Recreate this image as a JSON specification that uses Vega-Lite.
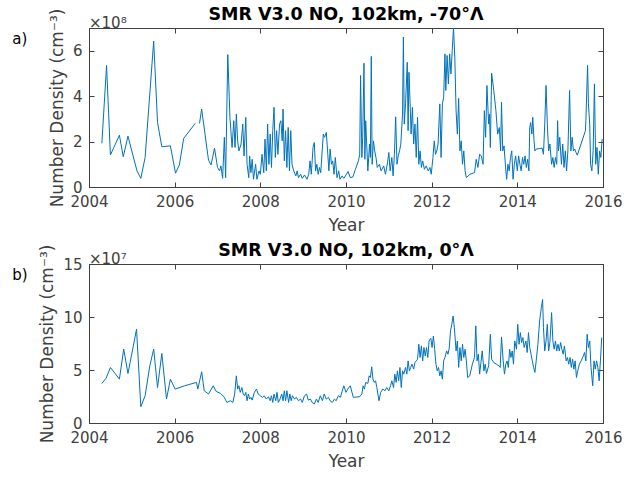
{
  "$schema": "https://vega.github.io/schema/vega-lite/v6.json",
  "autosize": {"type": "pad"},
  "padding": {"left": 11, "top": 5, "right": 5, "bottom": 5},
  "config": {
    "font": "DejaVu Sans",
    "view": {"stroke": "#404040", "strokeWidth": 1},
    "axis": {
      "grid": false, "labelFlush": false, "labelOverlap": false,
      "labelFont": "DejaVu Sans", "labelFontSize": 15, "labelColor": "#404040",
      "titleFont": "DejaVu Sans", "titleFontSize": 17, "titleFontWeight": "normal", "titleColor": "#404040",
      "domainColor": "#404040", "tickColor": "#404040", "tickSize": -5, "labelPadding": 12
    },
    "title": {"font": "DejaVu Sans", "fontSize": 17.5, "fontWeight": "bold", "color": "#000000", "baseline": "alphabetic", "offset": -15}
  },
  "datasets": {
    "top": [
      {"year":2004.30,"density":1.92e8,"segment":1},{"year":2004.41,"density":5.35e8,"segment":1},{"year":2004.50,"density":1.41e8,"segment":1},{"year":2004.71,"density":2.28e8,"segment":1},{"year":2004.80,"density":1.33e8,"segment":1},{"year":2004.91,"density":2.24e8,"segment":1},{"year":2005.12,"density":0.71e8,"segment":1},{"year":2005.21,"density":0.38e8,"segment":1},{"year":2005.31,"density":1.30e8,"segment":1},{"year":2005.51,"density":6.42e8,"segment":1},{"year":2005.60,"density":2.84e8,"segment":1},{"year":2005.70,"density":1.77e8,"segment":1},{"year":2005.90,"density":1.81e8,"segment":1},{"year":2006.02,"density":0.61e8,"segment":1},{"year":2006.11,"density":0.97e8,"segment":1},{"year":2006.21,"density":2.14e8,"segment":1},{"year":2006.48,"density":2.80e8,"segment":1},
      {"year":2006.58,"density":2.80e8,"segment":2},{"year":2006.63,"density":3.43e8,"segment":2},{"year":2006.79,"density":1.18e8,"segment":2},{"year":2006.85,"density":0.97e8,"segment":2},{"year":2006.93,"density":1.71e8,"segment":2},{"year":2007.00,"density":0.86e8,"segment":2},{"year":2007.05,"density":0.71e8,"segment":2},{"year":2007.08,"density":0.93e8,"segment":2},{"year":2007.12,"density":0.38e8,"segment":2},{"year":2007.16,"density":2.19e8,"segment":2},{"year":2007.19,"density":0.41e8,"segment":2},{"year":2007.24,"density":5.83e8,"segment":2},{"year":2007.29,"density":3.07e8,"segment":2},{"year":2007.34,"density":1.74e8,"segment":2},{"year":2007.38,"density":2.92e8,"segment":2},{"year":2007.41,"density":1.74e8,"segment":2},{"year":2007.44,"density":3.21e8,"segment":2},{"year":2007.47,"density":2.03e8,"segment":2},{"year":2007.50,"density":1.59e8,"segment":2},{"year":2007.55,"density":1.89e8,"segment":2},{"year":2007.59,"density":2.77e8,"segment":2},{"year":2007.62,"density":1.37e8,"segment":2},{"year":2007.66,"density":3.07e8,"segment":2},{"year":2007.69,"density":1.00e8,"segment":2},{"year":2007.73,"density":0.41e8,"segment":2},{"year":2007.75,"density":1.37e8,"segment":2},{"year":2007.78,"density":0.63e8,"segment":2},{"year":2007.81,"density":1.22e8,"segment":2},{"year":2007.84,"density":0.34e8,"segment":2},{"year":2007.89,"density":1.00e8,"segment":2},{"year":2007.92,"density":0.34e8,"segment":2},{"year":2007.97,"density":0.71e8,"segment":2},{"year":2008.00,"density":0.56e8,"segment":2},{"year":2008.04,"density":1.44e8,"segment":2},{"year":2008.08,"density":0.63e8,"segment":2},{"year":2008.11,"density":2.11e8,"segment":2},{"year":2008.14,"density":0.71e8,"segment":2},{"year":2008.17,"density":2.77e8,"segment":2},{"year":2008.20,"density":1.00e8,"segment":2},{"year":2008.23,"density":2.33e8,"segment":2},{"year":2008.26,"density":0.86e8,"segment":2},{"year":2008.29,"density":2.48e8,"segment":2},{"year":2008.32,"density":3.51e8,"segment":2},{"year":2008.35,"density":1.30e8,"segment":2},{"year":2008.38,"density":2.48e8,"segment":2},{"year":2008.41,"density":1.44e8,"segment":2},{"year":2008.45,"density":2.77e8,"segment":2},{"year":2008.48,"density":2.92e8,"segment":2},{"year":2008.51,"density":2.03e8,"segment":2},{"year":2008.53,"density":3.43e8,"segment":2},{"year":2008.56,"density":1.15e8,"segment":2},{"year":2008.59,"density":2.48e8,"segment":2},{"year":2008.62,"density":0.86e8,"segment":2},{"year":2008.65,"density":2.62e8,"segment":2},{"year":2008.68,"density":0.71e8,"segment":2},{"year":2008.71,"density":2.48e8,"segment":2},{"year":2008.74,"density":1.00e8,"segment":2},{"year":2008.78,"density":0.71e8,"segment":2},{"year":2008.83,"density":0.49e8,"segment":2},{"year":2008.86,"density":0.71e8,"segment":2},{"year":2008.89,"density":0.41e8,"segment":2},{"year":2008.94,"density":0.56e8,"segment":2},{"year":2008.98,"density":0.38e8,"segment":2},{"year":2009.03,"density":0.53e8,"segment":2},{"year":2009.09,"density":0.34e8,"segment":2},{"year":2009.13,"density":0.56e8,"segment":2},{"year":2009.16,"density":1.15e8,"segment":2},{"year":2009.19,"density":0.56e8,"segment":2},{"year":2009.23,"density":1.74e8,"segment":2},{"year":2009.26,"density":1.96e8,"segment":2},{"year":2009.29,"density":0.71e8,"segment":2},{"year":2009.32,"density":1.00e8,"segment":2},{"year":2009.35,"density":0.56e8,"segment":2},{"year":2009.38,"density":0.86e8,"segment":2},{"year":2009.41,"density":0.63e8,"segment":2},{"year":2009.47,"density":2.33e8,"segment":2},{"year":2009.50,"density":2.19e8,"segment":2},{"year":2009.54,"density":2.40e8,"segment":2},{"year":2009.57,"density":1.59e8,"segment":2},{"year":2009.60,"density":0.71e8,"segment":2},{"year":2009.63,"density":1.67e8,"segment":2},{"year":2009.66,"density":1.00e8,"segment":2},{"year":2009.69,"density":1.15e8,"segment":2},{"year":2009.72,"density":0.56e8,"segment":2},{"year":2009.75,"density":1.30e8,"segment":2},{"year":2009.79,"density":0.41e8,"segment":2},{"year":2009.83,"density":0.71e8,"segment":2},{"year":2009.86,"density":0.34e8,"segment":2},{"year":2009.91,"density":0.49e8,"segment":2},{"year":2009.95,"density":0.38e8,"segment":2},{"year":2010.01,"density":0.56e8,"segment":2},{"year":2010.05,"density":0.68e8,"segment":2},{"year":2010.10,"density":0.41e8,"segment":2},{"year":2010.16,"density":0.44e8,"segment":2},{"year":2010.22,"density":0.78e8,"segment":2},{"year":2010.29,"density":1.15e8,"segment":2},{"year":2010.32,"density":1.44e8,"segment":2},{"year":2010.34,"density":4.91e8,"segment":2},{"year":2010.37,"density":1.30e8,"segment":2},{"year":2010.39,"density":2.19e8,"segment":2},{"year":2010.42,"density":5.45e8,"segment":2},{"year":2010.44,"density":1.22e8,"segment":2},{"year":2010.46,"density":2.92e8,"segment":2},{"year":2010.49,"density":1.59e8,"segment":2},{"year":2010.51,"density":0.71e8,"segment":2},{"year":2010.55,"density":1.89e8,"segment":2},{"year":2010.57,"density":1.30e8,"segment":2},{"year":2010.59,"density":5.75e8,"segment":2},{"year":2010.61,"density":1.00e8,"segment":2},{"year":2010.64,"density":2.03e8,"segment":2},{"year":2010.67,"density":1.59e8,"segment":2},{"year":2010.70,"density":1.30e8,"segment":2},{"year":2010.73,"density":0.86e8,"segment":2},{"year":2010.78,"density":1.00e8,"segment":2},{"year":2010.82,"density":0.71e8,"segment":2},{"year":2010.88,"density":0.93e8,"segment":2},{"year":2010.92,"density":0.56e8,"segment":2},{"year":2010.97,"density":1.07e8,"segment":2},{"year":2011.00,"density":1.52e8,"segment":2},{"year":2011.03,"density":0.71e8,"segment":2},{"year":2011.07,"density":1.30e8,"segment":2},{"year":2011.10,"density":0.49e8,"segment":2},{"year":2011.13,"density":1.44e8,"segment":2},{"year":2011.16,"density":3.09e8,"segment":2},{"year":2011.19,"density":1.00e8,"segment":2},{"year":2011.22,"density":1.37e8,"segment":2},{"year":2011.25,"density":1.59e8,"segment":2},{"year":2011.28,"density":1.89e8,"segment":2},{"year":2011.32,"density":3.21e8,"segment":2},{"year":2011.34,"density":6.60e8,"segment":2},{"year":2011.36,"density":2.77e8,"segment":2},{"year":2011.39,"density":3.66e8,"segment":2},{"year":2011.43,"density":5.49e8,"segment":2},{"year":2011.45,"density":2.48e8,"segment":2},{"year":2011.47,"density":5.05e8,"segment":2},{"year":2011.50,"density":3.51e8,"segment":2},{"year":2011.52,"density":2.33e8,"segment":2},{"year":2011.55,"density":3.51e8,"segment":2},{"year":2011.58,"density":1.89e8,"segment":2},{"year":2011.61,"density":2.77e8,"segment":2},{"year":2011.64,"density":1.30e8,"segment":2},{"year":2011.67,"density":3.07e8,"segment":2},{"year":2011.70,"density":1.00e8,"segment":2},{"year":2011.73,"density":1.59e8,"segment":2},{"year":2011.76,"density":0.86e8,"segment":2},{"year":2011.79,"density":1.15e8,"segment":2},{"year":2011.83,"density":0.78e8,"segment":2},{"year":2011.87,"density":0.93e8,"segment":2},{"year":2011.92,"density":0.71e8,"segment":2},{"year":2011.96,"density":0.86e8,"segment":2},{"year":2011.99,"density":0.56e8,"segment":2},{"year":2012.03,"density":1.30e8,"segment":2},{"year":2012.06,"density":2.03e8,"segment":2},{"year":2012.09,"density":1.44e8,"segment":2},{"year":2012.12,"density":1.59e8,"segment":2},{"year":2012.15,"density":1.89e8,"segment":2},{"year":2012.19,"density":3.66e8,"segment":2},{"year":2012.22,"density":1.30e8,"segment":2},{"year":2012.25,"density":3.66e8,"segment":2},{"year":2012.28,"density":3.95e8,"segment":2},{"year":2012.31,"density":5.86e8,"segment":2},{"year":2012.33,"density":4.25e8,"segment":2},{"year":2012.36,"density":5.79e8,"segment":2},{"year":2012.39,"density":4.54e8,"segment":2},{"year":2012.42,"density":5.86e8,"segment":2},{"year":2012.45,"density":4.98e8,"segment":2},{"year":2012.48,"density":6.01e8,"segment":2},{"year":2012.51,"density":7.00e8,"segment":2},{"year":2012.54,"density":5.72e8,"segment":2},{"year":2012.57,"density":3.36e8,"segment":2},{"year":2012.60,"density":2.33e8,"segment":2},{"year":2012.63,"density":3.90e8,"segment":2},{"year":2012.66,"density":1.59e8,"segment":2},{"year":2012.69,"density":2.03e8,"segment":2},{"year":2012.72,"density":1.00e8,"segment":2},{"year":2012.75,"density":1.59e8,"segment":2},{"year":2012.78,"density":0.71e8,"segment":2},{"year":2012.81,"density":0.41e8,"segment":2},{"year":2012.89,"density":0.56e8,"segment":2},{"year":2013.00,"density":0.63e8,"segment":2},{"year":2013.04,"density":1.22e8,"segment":2},{"year":2013.08,"density":0.86e8,"segment":2},{"year":2013.12,"density":1.44e8,"segment":2},{"year":2013.16,"density":1.37e8,"segment":2},{"year":2013.20,"density":1.00e8,"segment":2},{"year":2013.23,"density":3.36e8,"segment":2},{"year":2013.26,"density":2.19e8,"segment":2},{"year":2013.29,"density":4.47e8,"segment":2},{"year":2013.33,"density":2.77e8,"segment":2},{"year":2013.35,"density":3.21e8,"segment":2},{"year":2013.37,"density":1.74e8,"segment":2},{"year":2013.40,"density":5.01e8,"segment":2},{"year":2013.45,"density":4.25e8,"segment":2},{"year":2013.50,"density":3.36e8,"segment":2},{"year":2013.54,"density":2.33e8,"segment":2},{"year":2013.58,"density":2.62e8,"segment":2},{"year":2013.61,"density":1.59e8,"segment":2},{"year":2013.63,"density":3.73e8,"segment":2},{"year":2013.66,"density":1.59e8,"segment":2},{"year":2013.69,"density":1.81e8,"segment":2},{"year":2013.72,"density":1.00e8,"segment":2},{"year":2013.75,"density":0.34e8,"segment":2},{"year":2013.78,"density":1.00e8,"segment":2},{"year":2013.81,"density":0.71e8,"segment":2},{"year":2013.84,"density":1.30e8,"segment":2},{"year":2013.87,"density":1.59e8,"segment":2},{"year":2013.90,"density":0.34e8,"segment":2},{"year":2013.93,"density":1.00e8,"segment":2},{"year":2013.96,"density":1.37e8,"segment":2},{"year":2014.00,"density":0.71e8,"segment":2},{"year":2014.03,"density":1.37e8,"segment":2},{"year":2014.06,"density":1.00e8,"segment":2},{"year":2014.09,"density":0.71e8,"segment":2},{"year":2014.12,"density":1.30e8,"segment":2},{"year":2014.15,"density":1.00e8,"segment":2},{"year":2014.18,"density":1.37e8,"segment":2},{"year":2014.21,"density":0.86e8,"segment":2},{"year":2014.24,"density":1.22e8,"segment":2},{"year":2014.27,"density":0.71e8,"segment":2},{"year":2014.29,"density":2.62e8,"segment":2},{"year":2014.31,"density":2.84e8,"segment":2},{"year":2014.34,"density":2.33e8,"segment":2},{"year":2014.36,"density":3.07e8,"segment":2},{"year":2014.39,"density":2.03e8,"segment":2},{"year":2014.41,"density":1.59e8,"segment":2},{"year":2014.44,"density":1.67e8,"segment":2},{"year":2014.58,"density":1.71e8,"segment":2},{"year":2014.61,"density":1.44e8,"segment":2},{"year":2014.64,"density":2.77e8,"segment":2},{"year":2014.67,"density":4.47e8,"segment":2},{"year":2014.70,"density":2.77e8,"segment":2},{"year":2014.73,"density":1.59e8,"segment":2},{"year":2014.76,"density":1.89e8,"segment":2},{"year":2014.80,"density":1.00e8,"segment":2},{"year":2014.83,"density":1.30e8,"segment":2},{"year":2014.86,"density":0.86e8,"segment":2},{"year":2014.89,"density":1.30e8,"segment":2},{"year":2014.92,"density":1.00e8,"segment":2},{"year":2014.94,"density":2.92e8,"segment":2},{"year":2014.96,"density":1.59e8,"segment":2},{"year":2014.99,"density":2.19e8,"segment":2},{"year":2015.03,"density":1.00e8,"segment":2},{"year":2015.06,"density":1.89e8,"segment":2},{"year":2015.09,"density":0.86e8,"segment":2},{"year":2015.12,"density":1.59e8,"segment":2},{"year":2015.15,"density":0.71e8,"segment":2},{"year":2015.18,"density":1.59e8,"segment":2},{"year":2015.22,"density":4.25e8,"segment":2},{"year":2015.25,"density":1.59e8,"segment":2},{"year":2015.28,"density":2.19e8,"segment":2},{"year":2015.31,"density":1.59e8,"segment":2},{"year":2015.34,"density":1.67e8,"segment":2},{"year":2015.37,"density":1.52e8,"segment":2},{"year":2015.40,"density":1.40e8,"segment":2},{"year":2015.59,"density":2.48e8,"segment":2},{"year":2015.60,"density":2.92e8,"segment":2},{"year":2015.64,"density":5.35e8,"segment":2},{"year":2015.66,"density":3.66e8,"segment":2},{"year":2015.69,"density":2.77e8,"segment":2},{"year":2015.71,"density":1.00e8,"segment":2},{"year":2015.74,"density":0.71e8,"segment":2},{"year":2015.77,"density":1.59e8,"segment":2},{"year":2015.80,"density":4.54e8,"segment":2},{"year":2015.83,"density":1.00e8,"segment":2},{"year":2015.86,"density":1.74e8,"segment":2},{"year":2015.89,"density":0.56e8,"segment":2},{"year":2015.92,"density":1.59e8,"segment":2},{"year":2015.95,"density":1.30e8,"segment":2},{"year":2015.98,"density":2.11e8,"segment":2}
    ],
    "bottom": [
      {"year":2004.30,"density":3.73e7},{"year":2004.40,"density":4.23e7},{"year":2004.50,"density":5.24e7},{"year":2004.71,"density":4.14e7},{"year":2004.81,"density":6.97e7},{"year":2004.91,"density":4.67e7},{"year":2005.11,"density":8.85e7},{"year":2005.21,"density":1.53e7},{"year":2005.31,"density":2.57e7},{"year":2005.42,"density":5.40e7},{"year":2005.51,"density":6.97e7},{"year":2005.60,"density":3.35e7},{"year":2005.70,"density":6.56e7},{"year":2005.81,"density":2.26e7},{"year":2005.90,"density":4.14e7},{"year":2006.01,"density":3.20e7},{"year":2006.23,"density":3.51e7},{"year":2006.51,"density":3.83e7},{"year":2006.54,"density":3.20e7},{"year":2006.63,"density":4.83e7},{"year":2006.69,"density":3.04e7},{"year":2006.79,"density":2.73e7},{"year":2006.90,"density":3.51e7},{"year":2006.97,"density":2.98e7},
      {"year":2007.07,"density":2.79e7},{"year":2007.15,"density":2.48e7},{"year":2007.22,"density":1.94e7},{"year":2007.30,"density":2.10e7},{"year":2007.36,"density":1.94e7},{"year":2007.40,"density":2.73e7},{"year":2007.44,"density":4.45e7},{"year":2007.47,"density":3.20e7},{"year":2007.50,"density":3.51e7},{"year":2007.53,"density":2.89e7},{"year":2007.57,"density":3.35e7},{"year":2007.60,"density":2.73e7},{"year":2007.63,"density":2.57e7},{"year":2007.66,"density":2.89e7},{"year":2007.69,"density":2.10e7},{"year":2007.72,"density":2.73e7},{"year":2007.75,"density":2.26e7},{"year":2007.78,"density":2.42e7},{"year":2007.81,"density":2.16e7},{"year":2007.86,"density":2.89e7},{"year":2007.91,"density":3.20e7},{"year":2007.95,"density":2.73e7},{"year":2008.00,"density":2.57e7},{"year":2008.05,"density":2.42e7},{"year":2008.09,"density":2.57e7},{"year":2008.14,"density":2.26e7},{"year":2008.19,"density":2.48e7},{"year":2008.23,"density":2.10e7},{"year":2008.26,"density":2.57e7},{"year":2008.29,"density":1.94e7},{"year":2008.32,"density":2.73e7},{"year":2008.36,"density":2.10e7},{"year":2008.39,"density":2.89e7},{"year":2008.42,"density":1.94e7},{"year":2008.45,"density":2.16e7},{"year":2008.50,"density":2.73e7},{"year":2008.53,"density":2.10e7},{"year":2008.56,"density":3.04e7},{"year":2008.59,"density":2.10e7},{"year":2008.62,"density":3.04e7},{"year":2008.66,"density":1.94e7},{"year":2008.69,"density":2.73e7},{"year":2008.72,"density":2.10e7},{"year":2008.75,"density":2.57e7},{"year":2008.80,"density":2.26e7},{"year":2008.84,"density":2.42e7},{"year":2008.89,"density":2.10e7},{"year":2008.94,"density":2.26e7},{"year":2008.98,"density":1.94e7},{"year":2009.03,"density":2.57e7},{"year":2009.08,"density":2.73e7},{"year":2009.12,"density":2.16e7},{"year":2009.17,"density":2.26e7},{"year":2009.21,"density":1.94e7},{"year":2009.26,"density":1.79e7},{"year":2009.31,"density":2.26e7},{"year":2009.35,"density":1.94e7},{"year":2009.40,"density":2.57e7},{"year":2009.45,"density":2.10e7},{"year":2009.49,"density":2.73e7},{"year":2009.54,"density":2.26e7},{"year":2009.59,"density":2.42e7},{"year":2009.63,"density":2.10e7},{"year":2009.68,"density":1.94e7},{"year":2009.73,"density":2.26e7},{"year":2009.77,"density":2.10e7},{"year":2009.82,"density":2.57e7},{"year":2009.87,"density":2.42e7},{"year":2009.91,"density":3.00e7},{"year":2009.95,"density":3.51e7},{"year":2010.00,"density":2.89e7},{"year":2010.04,"density":3.20e7},{"year":2010.10,"density":3.51e7},{"year":2010.17,"density":2.42e7},{"year":2010.32,"density":2.48e7},{"year":2010.37,"density":2.73e7},{"year":2010.40,"density":3.51e7},{"year":2010.43,"density":3.20e7},{"year":2010.46,"density":3.83e7},{"year":2010.51,"density":3.73e7},{"year":2010.54,"density":4.45e7},{"year":2010.57,"density":4.29e7},{"year":2010.60,"density":5.30e7},{"year":2010.63,"density":4.14e7},{"year":2010.66,"density":3.83e7},{"year":2010.69,"density":3.98e7},{"year":2010.72,"density":3.35e7},{"year":2010.77,"density":2.10e7},{"year":2010.81,"density":2.89e7},{"year":2010.86,"density":3.20e7},{"year":2010.91,"density":3.04e7},{"year":2010.95,"density":3.35e7},{"year":2011.00,"density":3.04e7},{"year":2011.04,"density":3.51e7},{"year":2011.07,"density":3.98e7},{"year":2011.11,"density":3.35e7},{"year":2011.14,"density":4.61e7},{"year":2011.17,"density":3.83e7},{"year":2011.20,"density":4.92e7},{"year":2011.23,"density":3.98e7},{"year":2011.26,"density":5.24e7},{"year":2011.29,"density":3.35e7},{"year":2011.32,"density":4.92e7},{"year":2011.35,"density":4.61e7},{"year":2011.39,"density":5.24e7},{"year":2011.42,"density":4.61e7},{"year":2011.45,"density":5.86e7},{"year":2011.48,"density":4.92e7},{"year":2011.51,"density":5.24e7},{"year":2011.54,"density":5.55e7},{"year":2011.58,"density":5.08e7},{"year":2011.61,"density":5.71e7},{"year":2011.64,"density":5.86e7},{"year":2011.67,"density":6.02e7},{"year":2011.70,"density":7.43e7},{"year":2011.73,"density":6.18e7},{"year":2011.76,"density":7.27e7},{"year":2011.79,"density":5.86e7},{"year":2011.82,"density":7.12e7},{"year":2011.85,"density":6.33e7},{"year":2011.88,"density":7.12e7},{"year":2011.91,"density":6.18e7},{"year":2011.94,"density":7.74e7},{"year":2011.98,"density":7.99e7},{"year":2012.01,"density":7.12e7},{"year":2012.04,"density":8.21e7},{"year":2012.07,"density":6.96e7},{"year":2012.10,"density":5.55e7},{"year":2012.13,"density":4.92e7},{"year":2012.16,"density":5.24e7},{"year":2012.19,"density":4.45e7},{"year":2012.22,"density":4.92e7},{"year":2012.25,"density":4.14e7},{"year":2012.28,"density":5.86e7},{"year":2012.31,"density":6.18e7},{"year":2012.35,"density":6.80e7},{"year":2012.38,"density":6.49e7},{"year":2012.41,"density":7.05e7},{"year":2012.44,"density":8.68e7},{"year":2012.47,"density":9.31e7},{"year":2012.50,"density":10.10e7},{"year":2012.53,"density":9.00e7},{"year":2012.57,"density":6.80e7},{"year":2012.60,"density":7.74e7},{"year":2012.63,"density":5.24e7},{"year":2012.66,"density":7.12e7},{"year":2012.69,"density":5.86e7},{"year":2012.72,"density":7.43e7},{"year":2012.75,"density":6.18e7},{"year":2012.78,"density":6.96e7},{"year":2012.81,"density":5.86e7},{"year":2012.84,"density":4.29e7},{"year":2012.89,"density":4.45e7},{"year":2012.95,"density":5.55e7},{"year":2013.00,"density":6.18e7},{"year":2013.03,"density":9.16e7},{"year":2013.06,"density":5.86e7},{"year":2013.09,"density":6.49e7},{"year":2013.12,"density":4.61e7},{"year":2013.15,"density":5.71e7},{"year":2013.18,"density":6.80e7},{"year":2013.22,"density":4.92e7},{"year":2013.25,"density":5.55e7},{"year":2013.28,"density":4.67e7},{"year":2013.33,"density":5.40e7},{"year":2013.37,"density":8.37e7},{"year":2013.40,"density":6.02e7},{"year":2013.45,"density":5.71e7},{"year":2013.51,"density":5.55e7},{"year":2013.57,"density":5.40e7},{"year":2013.60,"density":5.24e7},{"year":2013.63,"density":8.12e7},{"year":2013.67,"density":5.86e7},{"year":2013.70,"density":4.61e7},{"year":2013.73,"density":5.55e7},{"year":2013.76,"density":5.86e7},{"year":2013.79,"density":5.24e7},{"year":2013.82,"density":6.96e7},{"year":2013.85,"density":6.18e7},{"year":2013.88,"density":6.80e7},{"year":2013.91,"density":5.55e7},{"year":2013.94,"density":7.74e7},{"year":2013.98,"density":6.96e7},{"year":2014.01,"density":9.31e7},{"year":2014.04,"density":7.43e7},{"year":2014.07,"density":8.53e7},{"year":2014.10,"density":7.59e7},{"year":2014.13,"density":8.06e7},{"year":2014.16,"density":7.12e7},{"year":2014.20,"density":7.74e7},{"year":2014.23,"density":6.65e7},{"year":2014.26,"density":8.53e7},{"year":2014.29,"density":7.12e7},{"year":2014.32,"density":6.49e7},{"year":2014.35,"density":5.86e7},{"year":2014.38,"density":5.24e7},{"year":2014.41,"density":4.77e7},{"year":2014.44,"density":5.86e7},{"year":2014.48,"density":7.43e7},{"year":2014.52,"density":9.62e7},{"year":2014.56,"density":10.87e7},{"year":2014.59,"density":11.65e7},{"year":2014.61,"density":9.00e7},{"year":2014.64,"density":6.80e7},{"year":2014.67,"density":7.74e7},{"year":2014.70,"density":9.31e7},{"year":2014.73,"density":6.80e7},{"year":2014.76,"density":7.59e7},{"year":2014.80,"density":10.41e7},{"year":2014.83,"density":7.74e7},{"year":2014.86,"density":6.96e7},{"year":2014.89,"density":7.74e7},{"year":2014.92,"density":6.80e7},{"year":2014.95,"density":7.43e7},{"year":2014.98,"density":6.80e7},{"year":2015.01,"density":7.59e7},{"year":2015.04,"density":6.96e7},{"year":2015.07,"density":6.49e7},{"year":2015.10,"density":7.27e7},{"year":2015.14,"density":5.86e7},{"year":2015.17,"density":6.18e7},{"year":2015.20,"density":5.55e7},{"year":2015.23,"density":6.18e7},{"year":2015.26,"density":5.24e7},{"year":2015.29,"density":6.02e7},{"year":2015.32,"density":5.08e7},{"year":2015.35,"density":5.86e7},{"year":2015.38,"density":4.29e7},{"year":2015.41,"density":4.92e7},{"year":2015.45,"density":5.55e7},{"year":2015.49,"density":5.86e7},{"year":2015.54,"density":6.33e7},{"year":2015.57,"density":6.65e7},{"year":2015.60,"density":5.86e7},{"year":2015.63,"density":8.37e7},{"year":2015.66,"density":7.12e7},{"year":2015.69,"density":7.74e7},{"year":2015.72,"density":5.24e7},{"year":2015.76,"density":3.51e7},{"year":2015.79,"density":5.86e7},{"year":2015.82,"density":5.08e7},{"year":2015.85,"density":5.86e7},{"year":2015.88,"density":5.24e7},{"year":2015.91,"density":3.98e7},{"year":2015.94,"density":5.86e7},{"year":2015.97,"density":8.06e7}
    ]
  },
  "spacing": 77,
  "bounds": "flush",
  "vconcat": [
    {
      "width": 514, "height": 159,
      "title": {"text": "SMR V3.0 NO, 102km, -70°Λ"},
      "resolve": {"axis": {"x": "independent", "y": "independent"}},
      "layer": [
        {
          "data": {"name": "top"},
          "mark": {"type": "line", "color": "#0072BD", "strokeWidth": 1},
          "encoding": {
            "x": {"field": "year", "type": "quantitative", "scale": {"domain": [2004, 2016], "nice": false, "zero": false},
                  "axis": {"orient": "bottom", "values": [2004, 2006, 2008, 2010, 2012, 2014, 2016], "format": "d", "title": "Year", "titlePadding": 8}},
            "y": {"field": "density", "type": "quantitative", "scale": {"domain": [0, 700000000], "nice": false},
                  "axis": {"orient": "left", "values": [0, 200000000, 400000000, 600000000], "labelExpr": "format(datum.value/1e8, 'd')", "title": "Number Density (cm⁻³)", "titlePadding": 6}},
            "detail": {"field": "segment", "type": "nominal"}
          }
        },
        {
          "data": {"name": "top"},
          "mark": {"type": "point", "opacity": 0},
          "encoding": {
            "x": {"field": "year", "type": "quantitative", "axis": {"orient": "top", "values": [2004, 2006, 2008, 2010, 2012, 2014, 2016], "labels": false, "title": null}},
            "y": {"field": "density", "type": "quantitative", "axis": {"orient": "right", "values": [0, 200000000, 400000000, 600000000], "labels": false, "title": null}}
          }
        },
        {
          "data": {"values": [{"label": "×10⁸", "year": 2004, "density": 700000000}, {"label": "a)", "year": 2002.21, "density": 631000000}]},
          "mark": {"type": "text", "align": "left", "baseline": "alphabetic", "fontSize": 15, "font": "DejaVu Sans"},
          "encoding": {
            "x": {"field": "year", "type": "quantitative", "axis": null},
            "y": {"field": "density", "type": "quantitative", "axis": null},
            "text": {"field": "label"},
            "dy": {"condition": {"test": "datum.label == 'a)'", "value": 0}, "value": -6},
            "color": {"condition": {"test": "datum.label == 'a)'", "value": "#000000"}, "value": "#404040"}
          }
        }
      ]
    },
    {
      "width": 514, "height": 159,
      "title": {"text": "SMR V3.0 NO, 102km, 0°Λ"},
      "resolve": {"axis": {"x": "independent", "y": "independent"}},
      "layer": [
        {
          "data": {"name": "bottom"},
          "mark": {"type": "line", "color": "#0072BD", "strokeWidth": 1},
          "encoding": {
            "x": {"field": "year", "type": "quantitative", "scale": {"domain": [2004, 2016], "nice": false, "zero": false},
                  "axis": {"orient": "bottom", "values": [2004, 2006, 2008, 2010, 2012, 2014, 2016], "format": "d", "title": "Year", "titlePadding": 8}},
            "y": {"field": "density", "type": "quantitative", "scale": {"domain": [0, 150000000], "nice": false},
                  "axis": {"orient": "left", "values": [0, 50000000, 100000000, 150000000], "labelExpr": "format(datum.value/1e7, 'd')", "title": "Number Density (cm⁻³)", "titlePadding": 6}}
          }
        },
        {
          "data": {"name": "bottom"},
          "mark": {"type": "point", "opacity": 0},
          "encoding": {
            "x": {"field": "year", "type": "quantitative", "axis": {"orient": "top", "values": [2004, 2006, 2008, 2010, 2012, 2014, 2016], "labels": false, "title": null}},
            "y": {"field": "density", "type": "quantitative", "axis": {"orient": "right", "values": [0, 50000000, 100000000, 150000000], "labels": false, "title": null}}
          }
        },
        {
          "data": {"values": [{"label": "×10⁷", "year": 2004, "density": 150000000}, {"label": "b)", "year": 2002.21, "density": 135000000}]},
          "mark": {"type": "text", "align": "left", "baseline": "alphabetic", "fontSize": 15, "font": "DejaVu Sans"},
          "encoding": {
            "x": {"field": "year", "type": "quantitative", "axis": null},
            "y": {"field": "density", "type": "quantitative", "axis": null},
            "text": {"field": "label"},
            "dy": {"condition": {"test": "datum.label == 'b)'", "value": 0}, "value": -6},
            "color": {"condition": {"test": "datum.label == 'b)'", "value": "#000000"}, "value": "#404040"}
          }
        }
      ]
    }
  ]
}
